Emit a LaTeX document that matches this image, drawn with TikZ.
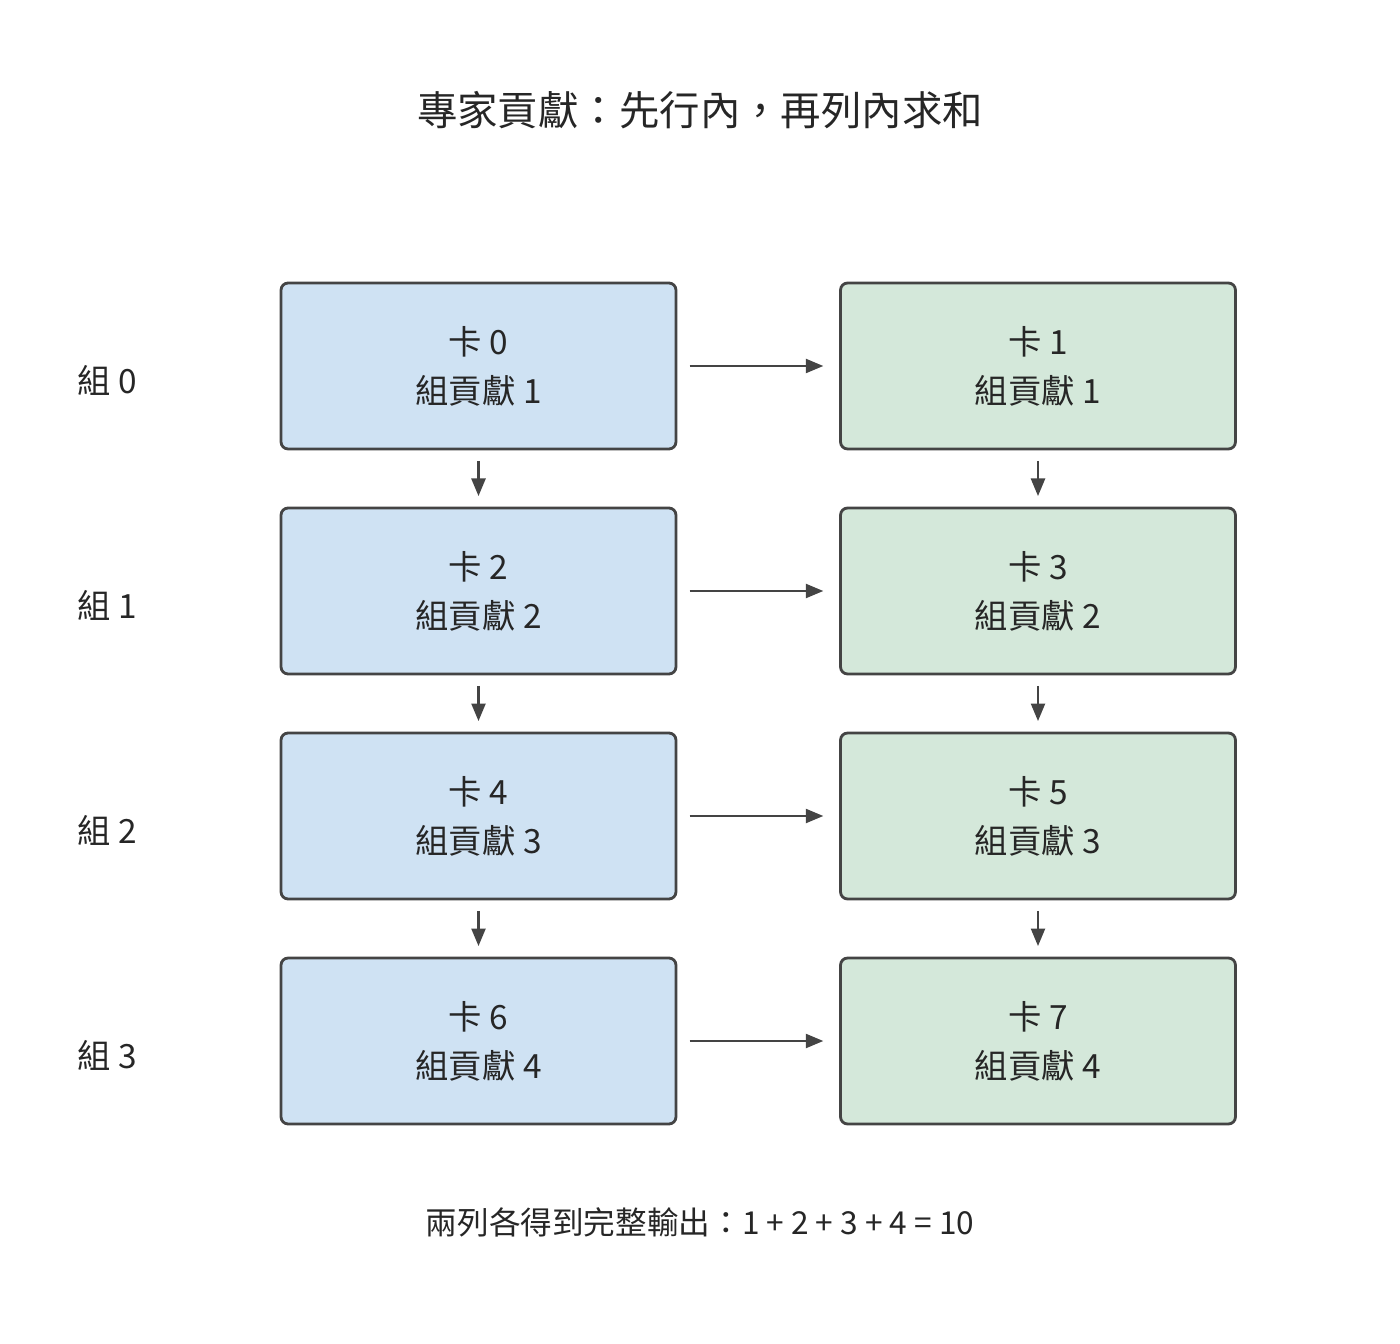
\documentclass[tikz,border=0pt]{standalone}
\usepackage{fontspec}
\setmainfont{Noto Sans CJK TC}
\usetikzlibrary{arrows.meta, positioning}
\definecolor{cardblue}{RGB}{207, 226, 243}
\definecolor{cardgreen}{RGB}{212, 232, 218}
\definecolor{edgegray}{RGB}{68, 68, 68}
\tikzset{
  card/.style={draw=edgegray, line width=1.6pt, rounded corners=4pt,
    minimum width=7.9cm, minimum height=3.32cm, align=center,
    font=\fontsize{19}{28}\selectfont, text=black!85},
  link/.style={-{Triangle[length=10pt, width=8pt]}, draw=edgegray, line width=1.3pt},
  grouplabel/.style={font=\fontsize{19}{24}\selectfont, text=black!85}
}
\begin{document}
\begin{tikzpicture}[x=0.02cm, y=-0.02cm]
\useasboundingbox (0,0) rectangle (1400,1344);
% Title
\node[font=\fontsize{23}{28}\selectfont, text=black!85] (title) at (700,110) {專家貢獻：先行內，再列內求和};

% Cards, one row per group
\foreach \r in {0,1,2,3} {
    \pgfmathtruncatemacro{\ca}{2*\r}
    \pgfmathtruncatemacro{\cb}{2*\r+1}
    \pgfmathtruncatemacro{\g}{\r+1}
    \node[card, fill=cardblue] (L\r) at (478.5,366+225*\r) {卡 \ca\\組貢獻 \g};
    \node[card, fill=cardgreen] (R\r) at (1038,366+225*\r) {卡 \cb\\組貢獻 \g};
    \node[grouplabel] (G\r) at (107,380+225*\r) {組 \r};
    \draw[link] ([xshift=7pt]L\r.east) -- ([xshift=-9pt]R\r.west);
}

% Down arrows
\foreach \a/\b in {0/1,1/2,2/3} {
    \draw[link] ([yshift=-6pt]L\a.south) -- ([yshift=6pt]L\b.south |- L\b.north);
    \draw[link] ([yshift=-6pt]R\a.south) -- ([yshift=6pt]R\b.south |- R\b.north);
}

% Bottom message
\node[font=\fontsize{18}{24}\selectfont, text=black!85] (sum) at (700,1222) {兩列各得到完整輸出：1 + 2 + 3 + 4 = 10};
\end{tikzpicture}
\end{document}
